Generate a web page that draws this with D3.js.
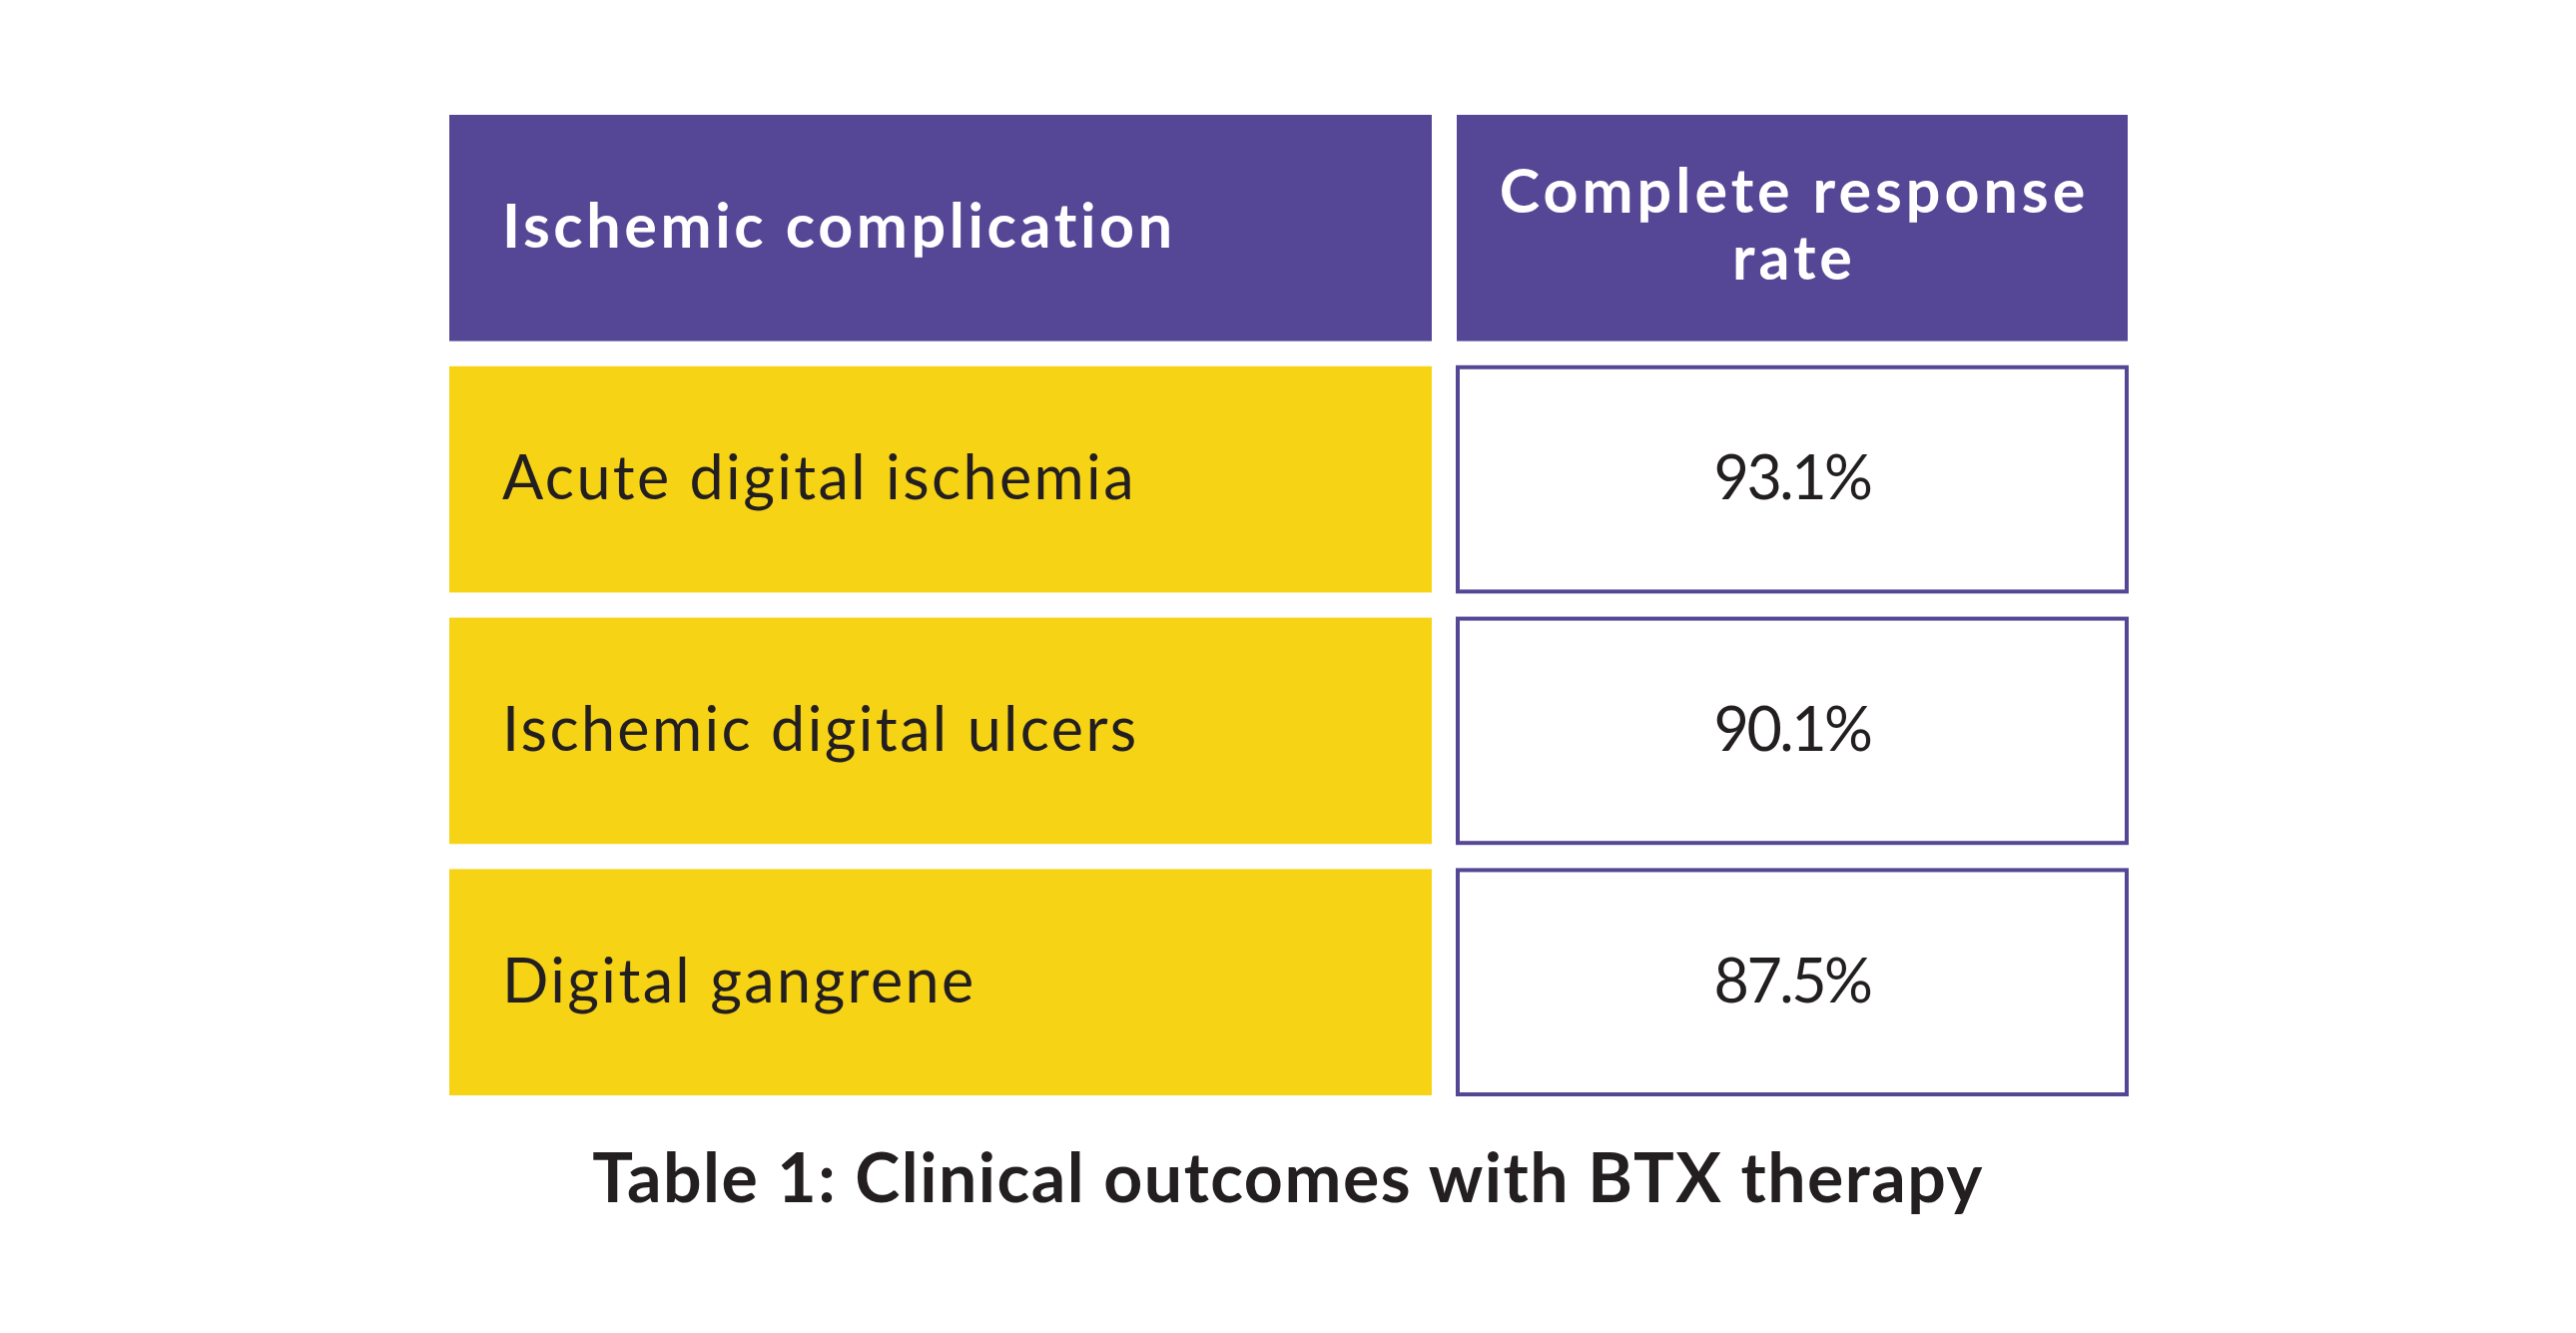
<!DOCTYPE html>
<html>
<head>
<meta charset="utf-8">
<script src="https://cdn.jsdelivr.net/npm/d3@7"></script>
<style>
  html, body { margin: 0; padding: 0; background: #fff; }
  svg { display: block; }
</style>
</head>
<body>
<svg id="table" width="2580" height="1335"></svg>
<script>
// table content
var headerLines = [["Ischemic complication"], ["Complete response", "rate"]];
var complications = ["Acute digital ischemia", "Ischemic digital ulcers", "Digital gangrene"];
var responseRates = [93.1, 90.1, 87.5];
var caption = "Table 1: Clinical outcomes with BTX therapy";

var purple = "#554795",
    yellow = "#F7D315",
    ink = "#231f20",
    font = "Lato, 'Open Sans', sans-serif";

var svg = d3.select("svg#table");
var width = +svg.attr("width");

// rows: header + one per complication
var rowKeys = ["header"].concat(complications);
var y = d3.scaleBand()
    .domain(rowKeys)
    .range([115, 1097])
    .paddingInner(0.1)
    .paddingOuter(0);

// two columns of unequal width
var colLeft = {x0: 450, x1: 1434},
    colRight = {x0: 1459, x1: 2131};

var g = svg.append("g");

// header cells
g.append("rect")
    .attr("x", colLeft.x0)
    .attr("y", y("header"))
    .attr("width", colLeft.x1 - colLeft.x0)
    .attr("height", y.bandwidth())
    .attr("fill", purple);
g.append("rect")
    .attr("x", colRight.x0)
    .attr("y", y("header"))
    .attr("width", colRight.x1 - colRight.x0)
    .attr("height", y.bandwidth())
    .attr("fill", purple);

var hc = y("header") + y.bandwidth() / 2;
g.append("text")
    .attr("x", colLeft.x0 + 53)
    .attr("y", hc + 20)
    .attr("fill", "#fff")
    .attr("font-family", font)
    .attr("font-weight", 700)
    .attr("font-size", 61)
    .attr("letter-spacing", 3.6)
    .text(headerLines[0][0]);

var rh = g.append("text")
    .attr("text-anchor", "middle")
    .attr("fill", "#fff")
    .attr("font-family", font)
    .attr("font-weight", 700)
    .attr("font-size", 61)
    .attr("letter-spacing", 4);
headerLines[1].forEach(function (line, i) {
    rh.append("tspan")
        .attr("x", (colRight.x0 + colRight.x1) / 2 + 2)
        .attr("y", hc - 15 + i * 67)
        .text(line);
});

// body rows
var rows = g.selectAll("g.row")
    .data(complications.map(function (c, i) { return {name: c, rate: responseRates[i]}; }))
    .enter().append("g")
    .attr("class", "row");

rows.append("rect")
    .attr("x", colLeft.x0)
    .attr("y", function (d) { return y(d.name); })
    .attr("width", colLeft.x1 - colLeft.x0)
    .attr("height", y.bandwidth())
    .attr("fill", yellow);

rows.append("rect")
    .attr("x", colRight.x0 + 1)
    .attr("y", function (d) { return y(d.name) + 1; })
    .attr("width", colRight.x1 - colRight.x0 - 2)
    .attr("height", y.bandwidth() - 2)
    .attr("fill", "#fff")
    .attr("stroke", purple)
    .attr("stroke-width", 4);

rows.append("text")
    .attr("x", colLeft.x0 + 53)
    .attr("y", function (d) { return y(d.name) + y.bandwidth() / 2 + 20; })
    .attr("fill", ink)
    .attr("font-family", font)
    .attr("font-weight", 400)
    .attr("font-size", 61)
    .attr("letter-spacing", 2.4)
    .text(function (d) { return d.name; });

var fmt = d3.format(".1f");
rows.append("text")
    .attr("x", (colRight.x0 + colRight.x1) / 2)
    .attr("y", function (d) { return y(d.name) + y.bandwidth() / 2 + 20; })
    .attr("text-anchor", "middle")
    .attr("fill", ink)
    .attr("font-family", font)
    .attr("font-weight", 400)
    .attr("font-size", 61)
    .attr("letter-spacing", -2.5)
    .text(function (d) { return fmt(d.rate) + "%"; });

// caption
svg.append("text")
    .attr("x", width / 2)
    .attr("y", 1204)
    .attr("text-anchor", "middle")
    .attr("fill", ink)
    .attr("font-family", font)
    .attr("font-weight", 700)
    .attr("font-size", 68)
    .attr("letter-spacing", 1.5)
    .text(caption);
</script>
</body>
</html>
